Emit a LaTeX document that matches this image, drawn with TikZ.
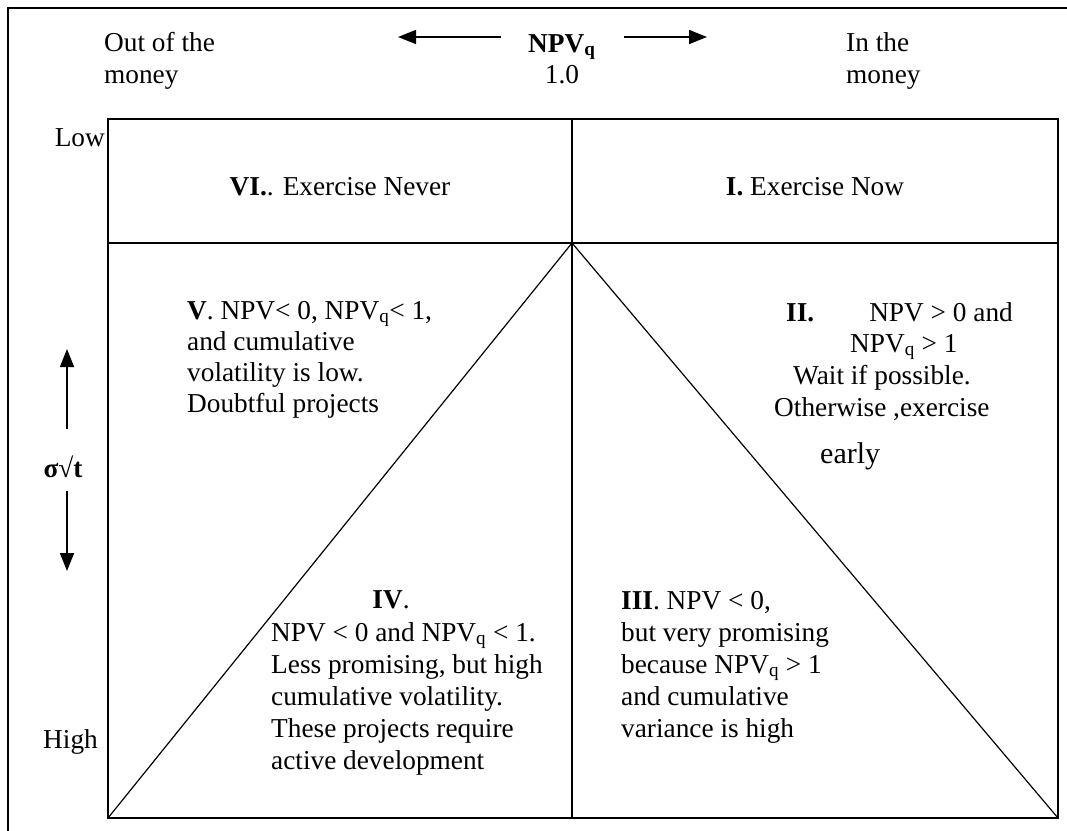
\documentclass[tikz,border=0pt]{standalone}
\usepackage{fontspec}
\setmainfont{Liberation Serif}
\usetikzlibrary{arrows.meta}
\begin{document}
\begin{tikzpicture}[x=1pt,y=-1pt,
  txt/.style={inner sep=0pt, font=\fontsize{27.3}{31.5}\selectfont},
  bigtxt/.style={inner sep=0pt, font=\fontsize{30}{34}\selectfont},
  frame/.style={line width=1.6pt, line cap=rect},
  diag/.style={line width=1.2pt},
  arr/.style={line width=1.5pt, -{Triangle[length=18pt,width=14pt]}}]
\useasboundingbox (0,0) rectangle (1067,830);
\fill[white] (0,0) rectangle (1067,830);
% outer frame (left and top only visible)
\coordinate (ofl) at (8,830);
\coordinate (oftl) at (8,8);
\coordinate (oftr) at (1067,8);
\draw[frame] (ofl) -- (oftl) -- (oftr);
% inner box
\coordinate (btl) at (108,119);
\coordinate (bbr) at (1058,818);
\coordinate (bbl) at (108,818);
\coordinate (hl) at (108,243);
\coordinate (hr) at (1058,243);
\coordinate (vt) at (572,119);
\coordinate (vb) at (572,818);
\coordinate (apex) at (572,243);
\draw[frame] (btl) rectangle (bbr);
\draw[frame] (hl) -- (hr);
\draw[frame] (vt) -- (vb);
\draw[diag] (apex) -- (bbl);
\draw[diag] (apex) -- (bbr);
% top labels
\node[txt, anchor=base west] (out1) at (104,51) {Out of the};
\node[txt, anchor=base west] (out2) at (104,83) {money};
\node[txt, anchor=base west] (npvq) at (528,52) {\textbf{NPV\textsubscript{q}}};
\node[txt, anchor=base] (one) at (562,83) {1.0};
\node[txt, anchor=base west] (in1) at (846,51) {In the};
\node[txt, anchor=base west] (in2) at (846,83) {money};
\coordinate (la0) at (501,37);
\coordinate (la1) at (398,37);
\coordinate (ra0) at (624,37);
\coordinate (ra1) at (707,37);
\draw[arr] (la0) -- (la1);
\draw[arr] (ra0) -- (ra1);
% left axis
\node[txt, anchor=base east] (low) at (105,146) {Low};
\node[txt, anchor=base east] (high) at (98,748) {High};
\node[txt, anchor=base] (sig) at (63,477) {\textbf{σ√t}};
\coordinate (ua0) at (67,429);
\coordinate (ua1) at (67,349);
\coordinate (da0) at (67,491);
\coordinate (da1) at (67,571);
\draw[arr] (ua0) -- (ua1);
\draw[arr] (da0) -- (da1);
% top cells
\node[txt, anchor=base] (six) at (340,195) {\textbf{VI.}. Exercise Never};
\node[txt, anchor=base] (oneI) at (815,195) {\textbf{I.} Exercise Now};
% V block
\node[txt, anchor=base west] (v1) at (187,319) {\textbf{V}. NPV< 0, NPV\textsubscript{q}< 1,};
\node[txt, anchor=base west] (v2) at (187,350) {and cumulative};
\node[txt, anchor=base west] (v3) at (187,381) {volatility is low.};
\node[txt, anchor=base west] (v4) at (187,412) {Doubtful projects};
% II block
\node[txt, anchor=base west] (ii1) at (786,321) {\textbf{II.}\hspace{55pt}NPV > 0 and};
\node[txt, anchor=base west] (ii2) at (850,352) {NPV\textsubscript{q} > 1};
\node[txt, anchor=base west] (ii3) at (793,384) {Wait if possible.};
\node[txt, anchor=base west] (ii4) at (774,416) {Otherwise ,exercise};
\node[bigtxt, anchor=base west] (ii5) at (820,463) {early};
% IV block
\node[txt, anchor=base] (iv0) at (391,608) {\textbf{IV}.};
\node[txt, anchor=base west] (iv1) at (271,641) {NPV < 0 and NPV\textsubscript{q} < 1.};
\node[txt, anchor=base west] (iv2) at (271,673) {Less promising, but high};
\node[txt, anchor=base west] (iv3) at (271,705) {cumulative volatility.};
\node[txt, anchor=base west] (iv4) at (271,737) {These projects require};
\node[txt, anchor=base west] (iv5) at (271,769) {active development};
% III block
\node[txt, anchor=base west] (iii1) at (621,609) {\textbf{III}. NPV < 0,};
\node[txt, anchor=base west] (iii2) at (621,641) {but very promising};
\node[txt, anchor=base west] (iii3) at (621,673) {because NPV\textsubscript{q} > 1};
\node[txt, anchor=base west] (iii4) at (621,705) {and cumulative};
\node[txt, anchor=base west] (iii5) at (621,737) {variance is high};
\end{tikzpicture}
\end{document}
